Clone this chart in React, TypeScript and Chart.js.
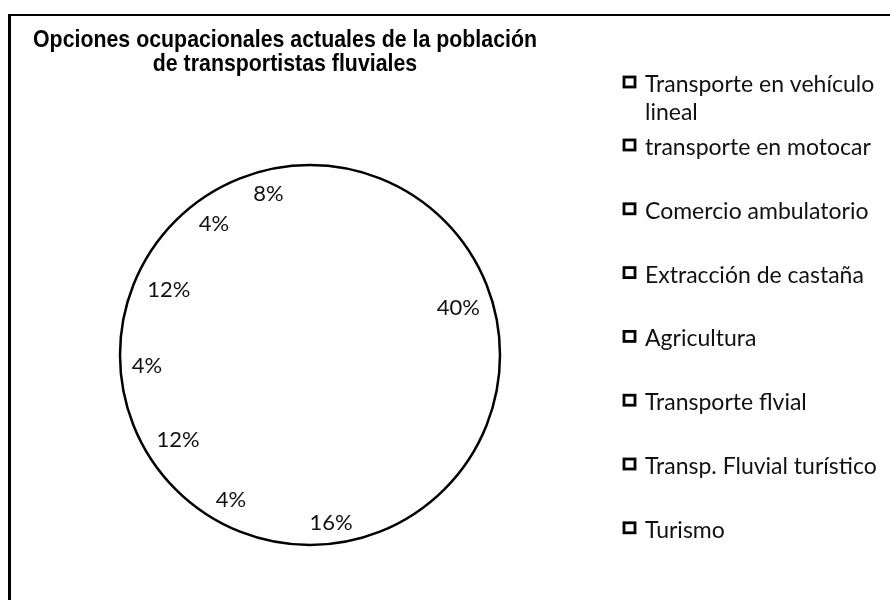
import React, { useEffect, useRef } from "react";
import { Chart, registerables } from "chart.js";

Chart.register(...registerables);

const TITLE_LINES = [
  "Opciones ocupacionales actuales de la población",
  "de transportistas fluviales",
];
const CATEGORIES = [
  "Transporte en vehículo lineal",
  "transporte en motocar",
  "Comercio ambulatorio",
  "Extracción de castaña",
  "Agricultura",
  "Transporte flvial",
  "Transp. Fluvial turístico",
  "Turismo",
];
const PERCENTS = [40, 16, 4, 12, 4, 12, 4, 8];

const TITLE_FONT = 'bold 24px "Liberation Sans", Arial, sans-serif';
const TEXT_FAMILY = 'Lato, "Open Sans", sans-serif';
const LABEL_SIZE = 22;
const LEGEND_SIZE = 23;

function wrapWords(ctx: CanvasRenderingContext2D, text: string, maxW: number): string[] {
  const words = text.split(" ");
  const lines: string[] = [];
  let cur = "";
  for (const w of words) {
    const test = cur ? cur + " " + w : w;
    if (ctx.measureText(test).width > maxW && cur) {
      lines.push(cur);
      cur = w;
    } else cur = test;
  }
  if (cur) lines.push(cur);
  return lines;
}

const decorPlugin = {
  id: "decor",
  afterDatasetsDraw(chart: any) {
    const ctx: CanvasRenderingContext2D = chart.ctx;
    const arcs = chart.getDatasetMeta(0).data;
    if (!arcs.length) return;
    const cx = arcs[0].x;
    const cy = arcs[0].y;
    const r = arcs[0].outerRadius;
    ctx.save();
    ctx.beginPath();
    ctx.arc(cx, cy, r, 0, Math.PI * 2);
    ctx.lineWidth = 2.5;
    ctx.strokeStyle = "#000";
    ctx.stroke();

    ctx.font = `${LABEL_SIZE}px ${TEXT_FAMILY}`;
    ctx.fillStyle = "#111";
    ctx.textAlign = "center";
    ctx.textBaseline = "alphabetic";
    const values = chart.data.datasets[0].data as number[];
    arcs.forEach((arc: any, i: number) => {
      const mid = (arc.startAngle + arc.endAngle) / 2;
      const ux = Math.cos(mid);
      const uy = Math.sin(mid);
      const text = values[i] + "%";
      const w = ctx.measureText(text).width;
      const hh = LABEL_SIZE * 0.38;
      const ext = (w / 2) * Math.abs(ux) + hh * Math.abs(uy);
      const d = r - 11 - ext;
      ctx.fillText(text, cx + ux * d, cy + uy * d + LABEL_SIZE * 0.36);
    });
    ctx.restore();
  },
  afterDraw(chart: any) {
    const ctx: CanvasRenderingContext2D = chart.ctx;
    ctx.save();
    // title (slightly condensed, like the reference)
    ctx.font = TITLE_FONT;
    ctx.fillStyle = "#000";
    ctx.textAlign = "center";
    ctx.textBaseline = "alphabetic";
    const natural = ctx.measureText(TITLE_LINES[0]).width;
    const sx = Math.min(1, 504 / natural);
    TITLE_LINES.forEach((line, i) => {
      ctx.save();
      ctx.translate(275, 31 + i * 24);
      ctx.scale(sx, 1);
      ctx.fillText(line, 0, 0);
      ctx.restore();
    });

    // legend
    ctx.font = `${LEGEND_SIZE}px ${TEXT_FAMILY}`;
    ctx.textAlign = "left";
    const labels = chart.data.labels as string[];
    labels.forEach((lab, i) => {
      const base = i === 0 ? 76 : 139 + (i - 1) * 63.8;
      const lines = wrapWords(ctx, lab, 248);
      ctx.fillStyle = "#fff";
      ctx.fillRect(614, base - 15, 11, 10);
      ctx.lineWidth = 2.8;
      ctx.strokeStyle = "#000";
      ctx.strokeRect(614, base - 15, 11, 10);
      ctx.fillStyle = "#111";
      lines.forEach((ln, j) => ctx.fillText(ln, 635, base + j * 28));
    });
    ctx.restore();
  },
};

export default function App() {
  const ref = useRef<HTMLCanvasElement | null>(null);
  useEffect(() => {
    if (!ref.current) return;
    const chart = new Chart(ref.current, {
      type: "pie",
      data: {
        labels: CATEGORIES,
        datasets: [
          {
            data: PERCENTS,
            backgroundColor: "#ffffff",
            borderWidth: 0,
            hoverOffset: 0,
          },
        ],
      },
      options: {
        responsive: false,
        animation: false,
        events: [],
        layout: { padding: { left: 110, right: 390, top: 149, bottom: 55 } },
        plugins: {
          legend: { display: false },
          title: { display: false },
          tooltip: { enabled: false },
        },
      },
      plugins: [decorPlugin],
    } as any);
    const fonts = (document as any).fonts;
    if (fonts && fonts.load) {
      Promise.all([
        fonts.load(`${LABEL_SIZE}px Lato`),
        fonts.load(TITLE_FONT),
      ]).then(() => chart.draw()).catch(() => {});
    }
    return () => chart.destroy();
  }, []);

  return (
    <div
      style={{
        position: "fixed",
        left: 0,
        top: 0,
        width: 890,
        height: 600,
        background: "#fff",
        overflow: "hidden",
      }}
    >
      <canvas
        ref={ref}
        width={880}
        height={584}
        style={{ position: "absolute", left: 10, top: 16, width: 880, height: 584 }}
      />
      <div style={{ position: "absolute", left: 8, top: 14, width: 882, height: 2, background: "#000" }} />
      <div style={{ position: "absolute", left: 8, top: 14, width: 3, height: 586, background: "#000" }} />
    </div>
  );
}
